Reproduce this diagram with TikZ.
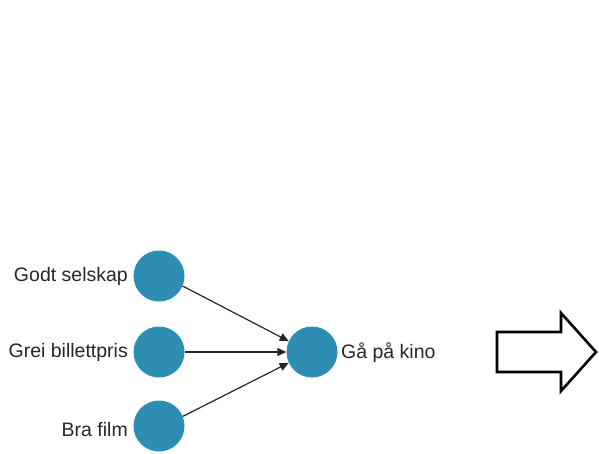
\documentclass[tikz,border=0pt]{standalone}
\usepackage{fontspec}
\setmainfont{Liberation Sans}
\usetikzlibrary{arrows.meta}
\definecolor{dotblue}{HTML}{2E8DB2}
\tikzset{
  dot/.style={circle, fill=dotblue, draw=none, minimum size=51pt, inner sep=0pt},
  lbl/.style={font=\fontsize{19.5}{21}\selectfont, text=black!85, inner sep=0pt},
  link/.style={-{Triangle[length=9pt,width=8pt]}, line width=1.2pt, black!85},
  bigarrow/.style={draw=black, line width=2.6pt, fill=white, line join=miter}
}
\begin{document}
\begin{tikzpicture}[x=1pt,y=-1pt]
  \useasboundingbox (0,0) rectangle (599,453);
  % input nodes
  \node[dot] (s) at (159,276) {};
  \node[dot] (p) at (159,352) {};
  \node[dot] (f) at (159,426) {};
  % output node
  \node[dot] (k) at (312,352) {};
  % labels
  \node[lbl, anchor=east] (ls) at (128,276) {Godt selskap};
  \node[lbl, anchor=east] (lp) at (128,352) {Grei billettpris};
  \node[lbl, anchor=east] (lf) at (128,430) {Bra film};
  \node[lbl, anchor=west] (lk) at (341,353) {Gå på kino};
  % connectors
  \draw[link] (s.-23) -- (k.155);
  \draw[link] (p.east) -- (k.west);
  \draw[link] (f.22) -- (k.205);
  % block arrow
  \draw[bigarrow] (497,332) -- (561,332) -- (561,313) -- (596,352)
     -- (561,391) -- (561,372) -- (497,372) -- cycle;
\end{tikzpicture}
\end{document}
